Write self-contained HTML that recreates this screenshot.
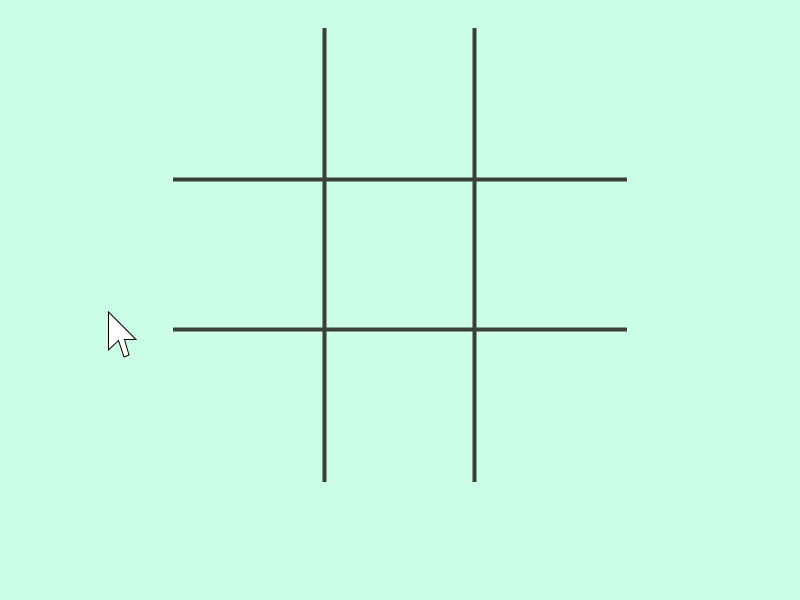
<!DOCTYPE html>
<html><head><meta charset="utf-8"><style>
html,body{margin:0;padding:0;background:#ccfde6;width:800px;height:600px;overflow:hidden}
</style></head><body>
<svg width="800" height="600" style="display:block">
<rect width="800" height="600" fill="#ccfde6"/>
<g stroke="#3a3f3c" stroke-width="4">
<line x1="324.5" y1="28" x2="324.5" y2="482"/>
<line x1="474.5" y1="28" x2="474.5" y2="482"/>
<line x1="173" y1="179.5" x2="627" y2="179.5"/>
<line x1="173" y1="329.5" x2="627" y2="329.5"/>
</g>
<polygon points="108.5,312 108.5,350 118.5,340.5 124,357 129,355 124.5,339.5 136,339.5" fill="#fff" stroke="#000" stroke-width="1"/>
</svg>
</body></html>
